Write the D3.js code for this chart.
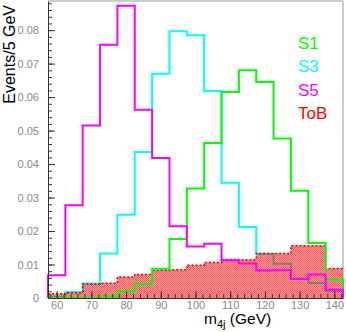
<!DOCTYPE html>
<html>
<head>
<meta charset="utf-8">
<script src="https://cdn.jsdelivr.net/npm/d3@7"></script>
<style>
  body { margin: 0; background: #fff; }
  svg { display: block; font-family: "Liberation Sans", Arial, sans-serif; }
</style>
</head>
<body>
<div class="chart"></div>
<script>
var svgWidth = 346;
var svgHeight = 332;

// plot frame in pixels
var frame = { left: 48, right: 343, top: 1, bottom: 298 };

// histogram bins (5 GeV wide), bin centers
var binCenters = [60, 65, 70, 75, 80, 85, 90, 95, 100, 105, 110, 115, 120, 125, 130, 135, 140];
var binWidth = 5;

var s1 = [0, 0, 0, 0.0005, 0.002, 0.0042, 0.0087, 0.0176, 0.0327, 0.0463, 0.0615, 0.068, 0.0645, 0.0476, 0.032, 0.0164, 0.0055];
var s3 = [0.0003, 0.0018, 0.0043, 0.0133, 0.0249, 0.0436, 0.067, 0.0797, 0.0785, 0.0618, 0.0344, 0.0212, 0.0132, 0.0102, 0.0058, 0.0045, 0.002];
var s5 = [0.0068, 0.0277, 0.0515, 0.0756, 0.0873, 0.0562, 0.0418, 0.0214, 0.0154, 0.0162, 0.0113, 0.0103, 0.0082, 0.0083, 0.0057, 0.007, 0.0025];
var tob = [0.0013, 0.0016, 0.0042, 0.0044, 0.0063, 0.007, 0.0083, 0.0084, 0.0098, 0.0106, 0.0115, 0.0114, 0.0133, 0.0133, 0.0156, 0.0156, 0.0088];

var xTicks = [60, 70, 80, 90, 100, 110, 120, 130, 140];
var yTicks = [0, 0.01, 0.02, 0.03, 0.04, 0.05, 0.06, 0.07, 0.08];

var legendLabels = ["S1", "S3", "S5", "ToB"];
var legendColors = ["#00ff00", "#00ffff", "#ff00ff", "#ff0000"];

var svg = d3.select(".chart")
  .append("svg")
  .attr("width", svgWidth)
  .attr("height", svgHeight);

var x = d3.scaleLinear()
  .domain([binCenters[0] - binWidth / 2, binCenters[binCenters.length - 1] + binWidth / 2])
  .range([frame.left, frame.right]);

var y = d3.scaleLinear()
  .domain([0, 0.0887])
  .range([frame.bottom, frame.top]);

// checkered red fill for ToB
var pat = svg.append("defs").append("pattern")
  .attr("id", "hatch")
  .attr("patternUnits", "userSpaceOnUse")
  .attr("width", 2)
  .attr("height", 2);
pat.append("rect").attr("width", 2).attr("height", 2).attr("fill", "#ff0000").attr("fill-opacity", 0.38);
pat.append("rect").attr("width", 1).attr("height", 1).attr("fill", "#ff0000").attr("fill-opacity", 0.45);
pat.append("rect").attr("x", 1).attr("y", 1).attr("width", 1).attr("height", 1).attr("fill", "#ff0000").attr("fill-opacity", 0.45);

function stepPoints(vals) {
  var pts = [[binCenters[0] - binWidth / 2, 0]];
  vals.forEach(function(v, i) {
    pts.push([binCenters[i] - binWidth / 2, v]);
    pts.push([binCenters[i] + binWidth / 2, v]);
  });
  pts.push([binCenters[binCenters.length - 1] + binWidth / 2, 0]);
  return pts;
}

var line = d3.line()
  .x(d => x(d[0]))
  .y(d => y(d[1]));

var area = d3.area()
  .x(d => x(d[0]))
  .y0(y(0))
  .y1(d => y(d[1]));

// frame (top / right)
svg.append("path")
  .attr("d", `M${frame.left},${frame.top}H${frame.right}V${frame.bottom}`)
  .attr("fill", "none")
  .attr("stroke", "#999")
  .attr("stroke-width", 1);

// S3 sits under the ToB fill
svg.append("path")
  .attr("d", line(stepPoints(s3)))
  .attr("fill", "none")
  .attr("stroke", "#00ffff")
  .attr("stroke-width", 2);

svg.append("path")
  .attr("d", area(stepPoints(tob)))
  .attr("fill", "url(#hatch)");

svg.append("path")
  .attr("d", line(stepPoints(tob).slice(1, -1)))
  .attr("fill", "none")
  .attr("stroke", "#e00000")
  .attr("stroke-width", 1.5)
  .attr("stroke-dasharray", "2,2");

svg.append("path")
  .attr("d", line(stepPoints(s1)))
  .attr("fill", "none")
  .attr("stroke", "#00ff00")
  .attr("stroke-width", 2);

svg.append("path")
  .attr("d", line(stepPoints(s5)))
  .attr("fill", "none")
  .attr("stroke", "#ff00ff")
  .attr("stroke-width", 2);

// axes, ticks pointing inward
svg.append("g")
  .attr("transform", `translate(${frame.left},0)`)
  .call(d3.axisLeft(y).tickValues(yTicks).tickSize(-7).tickSizeOuter(0).tickPadding(9)
    .tickFormat(d => d === 0 ? "0" : d3.format(".2f")(d)));

svg.append("g")
  .attr("transform", `translate(${frame.left},0)`)
  .call(d3.axisLeft(y).tickValues(d3.range(0, 0.0887, 0.002)).tickSize(-4).tickFormat(""))
  .select(".domain").remove();

svg.append("g")
  .attr("transform", `translate(0,${frame.bottom})`)
  .call(d3.axisBottom(x).tickValues(xTicks).tickSize(-7).tickSizeOuter(0).tickPadding(3));

svg.append("g")
  .attr("transform", `translate(0,${frame.bottom})`)
  .call(d3.axisBottom(x).tickValues(d3.range(58, 143, 2)).tickSize(-4).tickFormat(""))
  .select(".domain").remove();

svg.selectAll(".tick line, .domain").attr("stroke", "#333");
svg.selectAll(".tick text")
  .attr("fill", "#888")
  .style("font-size", "11px")
  .style("font-family", "'Liberation Sans', Arial, sans-serif");

// axis titles
svg.append("text")
  .attr("transform", "translate(15,5) rotate(-90)")
  .attr("text-anchor", "end")
  .style("font-size", "16px")
  .text("Events/5 GeV");

var xt = svg.append("text")
  .attr("x", 204)
  .attr("y", 324)
  .style("font-size", "15.5px");
xt.append("tspan").text("m");
xt.append("tspan").attr("dy", 4).style("font-size", "11px").text("4j");
xt.append("tspan").attr("dy", -4).text(" (GeV)");

// legend
svg.selectAll(".legend")
  .data(legendLabels)
  .enter()
  .append("text")
  .attr("class", "legend")
  .attr("x", 298)
  .attr("y", (d, i) => 49 + i * 23.3)
  .attr("fill", (d, i) => legendColors[i])
  .style("font-size", "17px")
  .text(d => d);
</script>
</body>
</html>
